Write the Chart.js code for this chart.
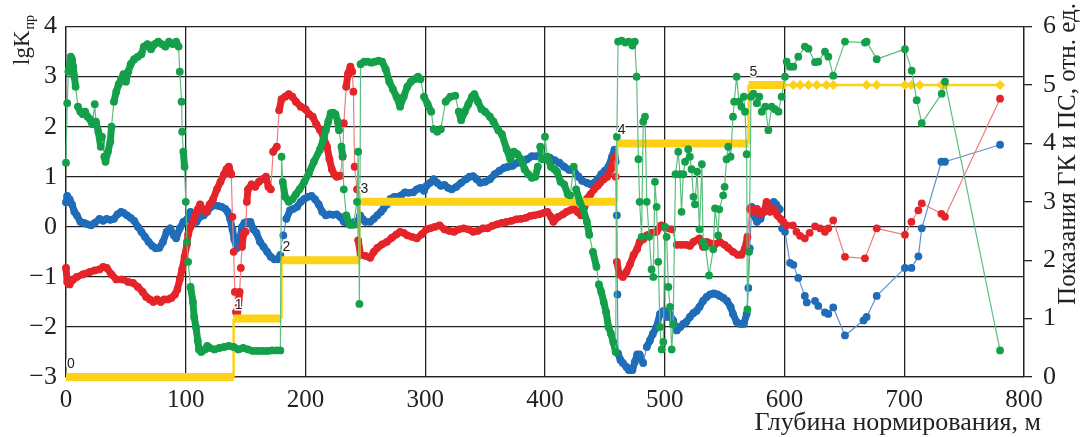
<!DOCTYPE html>
<html>
<head>
<meta charset="utf-8">
<script src="https://cdn.jsdelivr.net/npm/chart.js@4/dist/chart.umd.min.js"></script>
<style>
  html, body { margin: 0; padding: 0; background: #fff; }
  #wrap { width: 1080px; height: 437px; }
</style>
</head>
<body>
<div id="wrap"><canvas id="chart" width="1080" height="437"></canvas></div>
<script>
// depth (m), lgK
const red = [
  [0,-0.82],[1,-1.1],[3,-1.15],[6,-1.05],[9,-1.0],[14,-0.95],[20,-0.9],[24,-0.87],[28,-0.85],[31,-0.8],
  [34,-0.82],[38,-0.95],[42,-1.05],[47,-1.05],[52,-1.1],[56,-1.12],[60,-1.2],[64,-1.3],[67,-1.4],[70,-1.45],
  [73,-1.5],[76,-1.45],[79,-1.5],[82,-1.45],[85,-1.45],[88,-1.42],[91,-1.35],[93,-1.25],[95,-1.05],[97,-0.85],
  [99,-0.6],[101,-0.35],[102,-0.15],[104,0.0],[106,0.1],[108,0.25],[110,0.35],[112,0.45],[114,0.35],[117,0.3],
  [120,0.45],[123,0.56],[126,0.75],[129,0.9],[132,1.05],[134,1.15],[136,1.2],[138,1.05],[139,0.2],[140,-0.5],
  [141,-1.3],[142,-1.7],[143,-1.76],[144,-1.6],[145,-1.3],[146,-0.82],[147,-0.4],[148,-0.16],[150,-0.1],[151,0.5],
  [152,0.75],[155,0.85],[158,0.8],[161,0.9],[164,0.95],[167,1.0],[169,0.8],[171,0.75],[173,1.5],[176,1.6],
  [178,2.33],[180,2.55],[183,2.6],[186,2.65],[189,2.6],[192,2.5],[196,2.4],[200,2.35],[203,2.25],[206,2.2],
  [209,2.05],[212,1.94],[215,1.8],[218,1.6],[220,1.35],[222,1.15],[224,1.05],[226,1.0],[229,1.02],[231,1.4],
  [232,2.07],[234,2.8],[235.5,3.06],[237.5,3.2],[239,3.1],[240,2.7],[241,1.2],[243,0.75],[244,-0.27],[246,-0.56],
  [250,-0.58],[254,-0.62],[257,-0.5],[260,-0.42],[264,-0.35],[268,-0.3],[272,-0.22],[276,-0.15],[279,-0.1],[282,-0.12],
  [285,-0.17],[289,-0.2],[293,-0.23],[297,-0.15],[301,-0.05],[304,-0.03],[308,0.0],[312,0.03],[316,-0.05],[320,-0.08],
  [324,-0.1],[328,-0.05],[332,-0.03],[336,-0.05],[340,-0.1],[344,-0.08],[348,-0.03],[352,-0.03],[356,0.02],[360,0.05],
  [364,0.08],[368,0.1],[372,0.12],[376,0.15],[380,0.16],[384,0.18],[388,0.22],[391,0.23],[395,0.25],[399,0.28],
  [402,0.3],[405,0.2],[407,0.1],[411,0.2],[415,0.25],[418,0.3],[421,0.33],[424,0.37],[427,0.3],[430,0.23],
  [433,0.4],[435,0.56],[438,0.65],[441,0.75],[444,0.82],[446,0.88],[449,0.95],[452,1.0],[455,1.15],[458,1.4],
  [459,1.0],[460,-0.7],[462,-0.95],[465,-1.0],[468,-0.9],[471,-0.75],[474,-0.56],[477,-0.44],[479,-0.3],[482,-0.25],
  [485,-0.17],[489,-0.12],[493,-0.1],[497,0.03],[501,-0.03],[506,-0.05],[510,-0.36],[514,-0.36],[518,-0.36],[521,-0.38],
  [524,-0.3],[529,-0.23],[532,-0.4],[535,-0.3],[538,-0.33],[542,-0.35],[546,-0.3],[550,-0.36],[553,-0.42],[557,-0.5],
  [561,-0.56],[564,-0.56],[567,-0.43],[569,-0.2],[571,0.36],[573,0.3],[577,0.36],[580,0.25],[583,0.3],[585,0.5],
  [588,0.3],[591,0.36],[594,0.23],[597,0.15],[599,0.1],[602,0.03],[607,0.03],[610,-0.1],[613,-0.18],[617,-0.23],
  [621,-0.12],[625.5,0.01],[629.7,-0.03],[633.8,-0.1],[636.6,-0.03],[640.7,0.13],[650.5,-0.6],[667.2,-0.63],[677,-0.03],[700.6,-0.16],
  [706,0.1],[711.8,0.33],[714.6,0.47],[731,0.26],[734,0.2],[780,2.56]
];

const blue = [
  [0,0.49],[1,0.62],[3,0.55],[5,0.45],[7,0.3],[9,0.23],[12,0.1],[15,0.08],[18,0.05],[21,0.03],
  [24,0.08],[28,0.16],[31,0.12],[34,0.16],[37,0.14],[40,0.16],[43,0.25],[46,0.3],[48,0.28],[51,0.23],
  [54,0.18],[57,0.12],[60,0.0],[63,-0.1],[66,-0.2],[69,-0.3],[72,-0.38],[75,-0.43],[78,-0.42],[81,-0.3],
  [84,-0.1],[87,-0.03],[90,-0.17],[92,-0.23],[95,-0.03],[98,0.1],[101,0.15],[104,0.3],[106,0.25],[109,0.1],
  [112,0.2],[115,0.23],[118,0.3],[121,0.4],[124,0.43],[127,0.42],[130,0.4],[133,0.36],[135,0.3],[137,0.16],
  [139,-0.05],[140.5,-0.25],[142.5,-0.43],[144,-0.35],[145.5,-0.2],[147,0.0],[149,0.08],[151,0.1],[154,0.1],[156.5,-0.05],
  [159,-0.12],[162,-0.3],[165,-0.4],[168,-0.5],[171,-0.6],[174,-0.65],[177,-0.65],[179,-0.56],[181.5,-0.17],[184,0.16],
  [187,0.33],[190,0.36],[193,0.4],[196,0.5],[199,0.56],[202,0.6],[205,0.62],[208,0.55],[211,0.45],[214,0.3],
  [217,0.23],[220,0.25],[223,0.24],[226,0.25],[229,0.2],[232,0.1],[235,0.08],[238,0.05],[241,0.1],[243,0.05],
  [245.6,0.23],[248,0.15],[250,0.1],[254,0.1],[257,0.16],[260,0.23],[263,0.3],[265,0.36],[268,0.45],[271,0.56],
  [274,0.6],[277,0.6],[280,0.63],[283,0.69],[286,0.68],[290,0.69],[293,0.75],[296,0.78],[299,0.72],[301,0.82],
  [304,0.88],[307,0.95],[310,0.88],[313,0.82],[316,0.84],[319,0.78],[322,0.75],[326,0.8],[330,0.88],[334,0.95],
  [337,1.0],[340,1.01],[343,0.95],[346,0.88],[350,0.9],[354,0.95],[358,1.05],[362,1.12],[366,1.18],[369,1.2],
  [373,1.22],[377,1.28],[381,1.28],[385,1.35],[389,1.41],[393,1.41],[397,1.38],[400,1.35],[404,1.38],[408,1.33],
  [412,1.28],[416,1.2],[420,1.14],[424,1.12],[428,1.0],[431,0.92],[435,0.88],[438,0.85],[441,0.88],[444,0.95],
  [447,1.05],[450,1.12],[453,1.2],[456,1.4],[458,1.54],[459,1.3],[460,0.23],[460.5,-1.35],[461,-2.53],[463,-2.66],
  [465,-2.72],[468,-2.8],[470,-2.86],[473,-2.86],[475,-2.7],[477,-2.55],[479,-2.55],[482,-2.72],[485,-2.4],[487.6,-2.27],
  [490,-2.14],[493,-2.01],[496,-1.74],[499,-1.68],[502,-1.8],[504,-1.74],[507,-1.87],[510,-2.07],[513,-2.0],[515.5,-1.94],
  [518,-1.9],[521,-1.8],[524,-1.72],[526.5,-1.68],[529,-1.6],[532,-1.48],[535,-1.4],[538,-1.35],[541,-1.33],[544,-1.35],
  [546,-1.38],[549,-1.42],[552,-1.48],[555,-1.6],[557,-1.74],[560,-1.9],[563,-1.94],[566,-1.94],[568.4,-1.74],[569.8,-1.22],
  [571,-0.43],[572.6,0.4],[574,0.25],[577,0.1],[580,0.16],[582,0.3],[585,0.36],[588,0.45],[591,0.5],[593,0.45],
  [596,0.35],[598,-0.03],[600.4,-0.1],[604.6,-0.72],[607.4,-0.76],[611.5,-1.02],[617,-1.38],[618.6,-1.51],[625.5,-1.48],[628.2,-1.58],
  [633.8,-1.71],[636.6,-1.74],[640.7,-1.61],[650.5,-2.17],[666,-1.87],[668.6,-1.8],[677,-1.38],[700.6,-0.82],[706,-0.82],[711.8,-0.59],
  [714.6,-0.03],[731,1.3],[734,1.3],[780,1.64]
];

const green = [
  [0,1.28],[1,2.47],[2,3.1],[4,3.4],[5,3.35],[6,3.2],[7,3.0],[8,2.8],[10,2.4],[12,2.3],
  [14,2.25],[16,2.3],[18,2.2],[20,2.15],[22,2.05],[24,2.45],[25,2.1],[27,1.9],[29,1.6],[30,1.8],
  [32,1.4],[33,1.3],[35,1.5],[37,1.7],[38,2.0],[40,2.5],[42,2.7],[44,2.85],[46,2.95],[48,3.05],
  [50,2.9],[52,3.1],[54,3.25],[57,3.35],[60,3.4],[63,3.45],[65,3.6],[68,3.65],[71,3.55],[74,3.65],
  [77,3.7],[80,3.65],[83,3.6],[86,3.7],[89,3.65],[92,3.7],[94,3.6],[95,3.1],[96.5,2.5],[97,1.9],
  [98,1.5],[99,1.2],[100,0.5],[101,-0.3],[102,-0.7],[104,-1.2],[106,-1.5],[107,-1.8],[108.5,-2.0],[110,-2.27],
  [111,-2.45],[113,-2.5],[116,-2.45],[118,-2.38],[120,-2.42],[124,-2.45],[128,-2.42],[132,-2.4],[136,-2.38],[140,-2.4],
  [144,-2.45],[148,-2.42],[152,-2.45],[156,-2.48],[160,-2.48],[164,-2.48],[168,-2.48],[172,-2.47],[176,-2.47],[179,-2.47],
  [180,1.4],[181,0.9],[183,0.6],[186,0.5],[189,0.55],[192,0.65],[195,0.75],[199,0.9],[203,1.08],[207,1.3],
  [212,1.54],[215,1.75],[217,1.93],[219,2.1],[221,2.27],[223,2.28],[225,2.25],[227,2.1],[228,1.93],[230,1.6],
  [231,1.42],[232,0.75],[234,0.23],[237,0.04],[240,0.04],[243,0.5],[244,1.5],[245,-1.54],[246,3.25],[249,3.3],
  [252,3.3],[255,3.28],[258,3.3],[261,3.32],[264,3.3],[267,3.15],[270,2.9],[273,2.75],[276,2.6],[279,2.4],
  [282,2.6],[285,2.8],[288,2.9],[291,2.95],[294,3.0],[296,2.95],[299,2.6],[302,2.45],[305,2.3],[307,1.95],
  [310,1.9],[313,1.95],[317,2.5],[321,2.6],[325,2.62],[328,2.3],[330,2.13],[333,2.3],[336,2.45],[339,2.6],
  [341,2.65],[344,2.5],[347,2.35],[350,2.3],[354,2.2],[357,2.1],[361,1.93],[364,1.85],[368,1.55],[371,1.35],
  [374,1.5],[377,1.45],[380,1.35],[383,1.15],[386,1.05],[389,0.98],[392,1.0],[394,1.2],[396,1.6],[398,1.35],
  [400,1.8],[402,1.4],[405,1.2],[408,1.15],[410,1.1],[413,0.9],[416,0.85],[419,0.65],[421,0.63],[424,1.2],
  [426,0.75],[429,0.5],[432,0.35],[435,0.1],[437,-0.16],[440,-0.5],[443,-0.8],[445,-1.15],[447,-1.3],[449,-1.5],
  [451,-1.7],[453,-2.0],[455,-2.13],[457,-2.3],[459,-2.5],[460,1.8],[461,3.7],[464,3.72],[467,3.68],[470,3.7],
  [473,3.62],[475,3.7],[476.5,3.0],[478,1.35],[479,0.5],[480.7,-0.2],[482,2.1],[483.5,2.2],[485,0.5],[487,-0.2],
  [489,-0.85],[490.4,-1.0],[491.8,0.9],[493.2,0.4],[494.6,-0.7],[496,-2.0],[497.4,-2.45],[498.8,-2.3],[500.2,0.0],[501.6,-0.2],
  [503,-1.2],[504.4,-1.6],[505.8,-2.45],[507,-1.95],[509,1.05],[511.3,1.5],[512.7,1.05],[514,0.3],[515.5,1.05],[517,1.3],
  [519.6,1.55],[521,1.4],[522.4,1.15],[524,0.6],[525.2,0.45],[527,1.1],[529,-0.05],[531,1.25],[532,-0.3],[534,-0.4],
  [537,-0.97],[540.5,-0.45],[542,0.37],[544.6,-0.17],[545.5,0.35],[548.8,0.63],[550,0.8],[551.6,1.35],[553,1.6],[555,1.4],
  [557,2.2],[558,2.5],[560,3.0],[562,2.5],[564,2.4],[566,2.6],[567,2.3],[568.4,1.45],[569,-1.65],[570.5,-0.5],
  [572,2.6],[574,2.66],[576.8,2.47],[579,2.6],[581,2.3],[584,2.4],[586.5,1.93],[589.3,2.4],[592,2.35],[595,2.3],
  [597.6,2.6],[600.4,3.0],[601.8,3.3],[604.6,3.2],[607.4,3.2],[611.5,3.4],[617,3.6],[620,3.56],[625.5,3.29],[628.2,3.3],
  [633.8,3.5],[636.6,3.4],[640.7,3.02],[650.5,3.7],[667.2,3.68],[668.6,3.7],[677,3.35],[700.6,3.55],[706.2,3.12],[710.4,2.53],
  [714.6,2.07],[731.3,2.66],[734,2.9],[780,-2.47]
];

// depth (m), ГК/ПС reading (right axis)
const yellow = [
  [0,0],[140,0],[140,1],[180,1],[180,2],[245,2],[245,3],[460,3],[460,4],[570,4],
  [570,5],[601,5],[607.4,5],[613,5],[620,5],[627,5],[635,5],[640.7,5],[668.6,5],[677,5],
  [700.6,5],[706,5],[713,5],[731,5],[734,5],[780,5]
];

const stepLabels = ['0','1','2','3','4','5'];
const stepDepth = [0,140,180,245,460,570];
const stepValue = [0,1,2,3,4,5];

const xTitle = 'Глубина нормирования, м';
const rightTitle = 'Показания ГК и ПС, отн. ед.';

const INK = '#222';
const SERIF = '"Liberation Serif", "Times New Roman", serif';

function toXY(arr) { return arr.map(p => ({x: p[0], y: p[1]})); }

// thick band where readings are dense, thin connector otherwise
function isDense(ctx, denseUntil) {
  const a = ctx.p0, b = ctx.p1;
  const d = ctx.chart.data.datasets[ctx.datasetIndex].data[ctx.p1DataIndex].x;
  return d <= denseUntil && Math.hypot(b.x - a.x, b.y - a.y) < 16;
}

function series(label, arr, solid, light, denseUntil) {
  return {
    label: label,
    data: toXY(arr),
    yAxisID: 'y',
    borderColor: light,
    borderWidth: 1.2,
    borderJoinStyle: 'round',
    borderCapStyle: 'round',
    pointRadius: 3.9,
    pointBorderWidth: 0,
    pointBackgroundColor: solid,
    segment: {
      borderWidth: ctx => isDense(ctx, denseUntil) ? 7 : 1.2,
      borderColor: ctx => isDense(ctx, denseUntil) ? solid : light
    },
    clip: 10
  };
}

const gkColor = '#fcd116';

const stepLabelPlugin = {
  id: 'stepLabels',
  afterDatasetsDraw(chart) {
    const ctx = chart.ctx, xs = chart.scales.x, ys = chart.scales.y2;
    ctx.save();
    ctx.font = '14px "Liberation Sans", Arial, sans-serif';
    ctx.textAlign = 'left';
    ctx.textBaseline = 'bottom';
    stepLabels.forEach((t, i) => {
      const px = xs.getPixelForValue(stepDepth[i]) + 1;
      const py = ys.getPixelForValue(stepValue[i]) - 6;
      ctx.lineWidth = 3;
      ctx.strokeStyle = '#fff';
      ctx.strokeText(t, px, py);
      ctx.fillStyle = INK;
      ctx.fillText(t, px, py);
    });
    ctx.restore();
  }
};

const titlesPlugin = {
  id: 'titles',
  afterDraw(chart) {
    const ctx = chart.ctx;
    ctx.save();
    ctx.fillStyle = INK;
    // left: lgK with subscript
    ctx.translate(29, 65);
    ctx.rotate(-Math.PI / 2);
    ctx.textAlign = 'left';
    ctx.textBaseline = 'alphabetic';
    ctx.font = '23px ' + SERIF;
    ctx.fillText('lgK', 0, 0);
    const w = ctx.measureText('lgK').width;
    ctx.font = '14px ' + SERIF;
    ctx.fillText('пр', w + 1, 5);
    ctx.restore();

    // right title
    ctx.save();
    ctx.fillStyle = INK;
    ctx.translate(1075, 154);
    ctx.rotate(-Math.PI / 2);
    ctx.textAlign = 'center';
    ctx.textBaseline = 'alphabetic';
    ctx.font = '25px ' + SERIF;
    ctx.fillText(rightTitle, 0, 0);
    ctx.restore();

    // x title
    ctx.save();
    ctx.fillStyle = INK;
    ctx.font = '26px ' + SERIF;
    ctx.textAlign = 'right';
    ctx.textBaseline = 'alphabetic';
    ctx.fillText(xTitle, 1041, 430);
    ctx.restore();
  }
};

const minus = v => String(v).replace('-', '\u2212');

new Chart(document.getElementById('chart').getContext('2d'), {
  type: 'line',
  data: {
    datasets: [
      series('green', green, '#14a04a', '#5cbf7f', 460),
      {
        label: 'ГК/ПС',
        data: toXY(yellow),
        yAxisID: 'y2',
        borderColor: gkColor,
        borderWidth: 2.5,
        borderJoinStyle: 'round',
        pointStyle: 'rectRot',
        pointRadius: ctx => (ctx.raw && ctx.raw.x > 601 ? 5 : 0),
        pointBorderWidth: 0,
        pointBackgroundColor: gkColor,
        segment: {
          borderWidth: ctx => {
            const ds = ctx.chart.data.datasets[ctx.datasetIndex].data;
            const a = ds[ctx.p0DataIndex], b = ds[ctx.p1DataIndex];
            return (a.y === b.y && b.x <= 601) ? 8 : 2.5;
          }
        },
        clip: 10
      },
      series('red', red, '#e5242a', '#f27b7b', 600),
      series('blue', blue, '#1f6cb9', '#5d90cf', 600)
    ]
  },
  options: {
    responsive: false,
    animation: false,
    events: [],
    layout: { padding: { top: 22, left: 0, right: 0, bottom: 0 } },
    plugins: { legend: { display: false }, tooltip: { enabled: false } },
    scales: {
      x: {
        type: 'linear',
        min: 0, max: 800,
        ticks: { stepSize: 100, color: INK, padding: 8, maxRotation: 0, font: { family: SERIF, size: 25 } },
        grid: { color: INK, lineWidth: 1.3, drawTicks: false },
        border: { color: INK, width: 1.3 },
        afterFit: s => { s.height = 60; }
      },
      y: {
        position: 'left',
        min: -3, max: 4,
        ticks: { stepSize: 1, color: INK, padding: 9, callback: minus, font: { family: SERIF, size: 26 } },
        grid: { color: INK, lineWidth: 1.3, drawTicks: false },
        border: { color: INK, width: 1.3 },
        afterFit: s => { s.width = 66; }
      },
      y2: {
        position: 'right',
        min: 0, max: 6,
        ticks: { stepSize: 1, color: INK, padding: 11, font: { family: SERIF, size: 26 } },
        grid: { drawOnChartArea: false, drawTicks: true, tickLength: 8, color: INK, lineWidth: 1.3 },
        border: { color: INK, width: 1.3 },
        afterFit: s => { s.width = 56; }
      }
    }
  },
  plugins: [stepLabelPlugin, titlesPlugin]
});
</script>
</body>
</html>
